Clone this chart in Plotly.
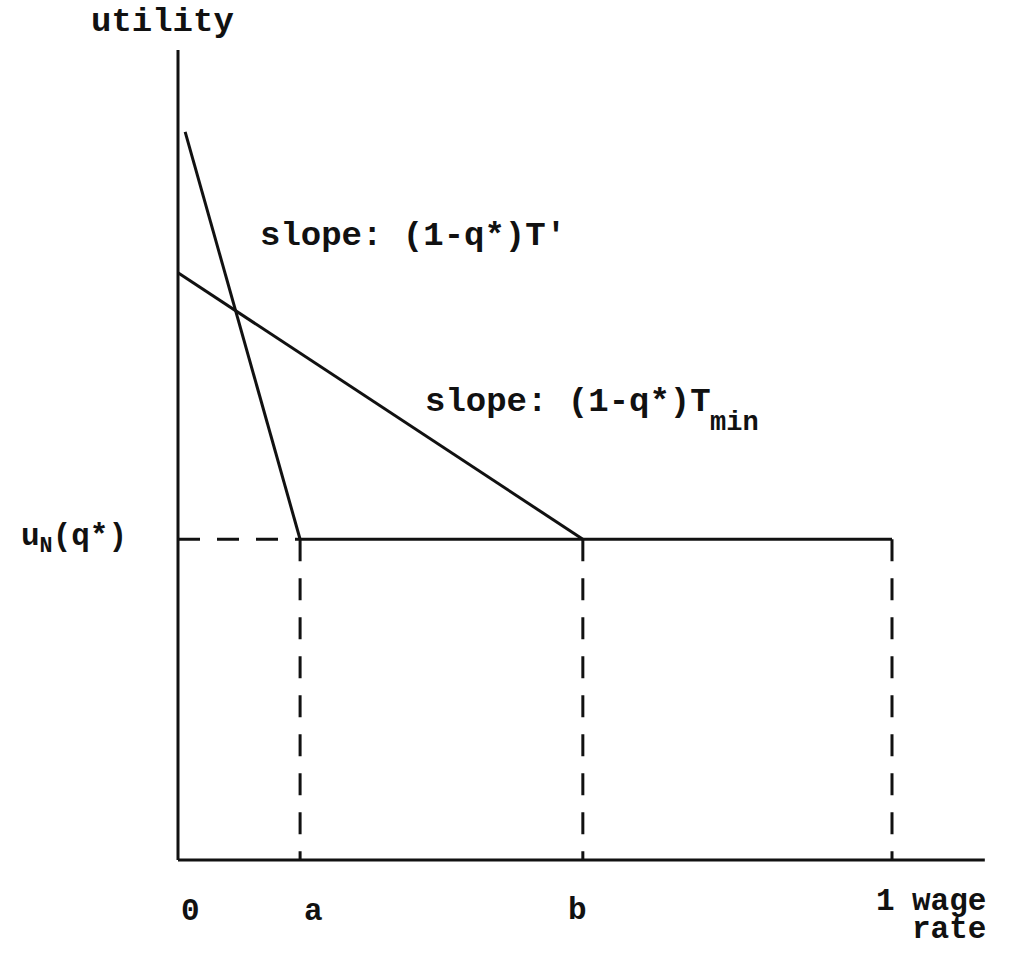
import plotly.graph_objects as go

# Wage-rate positions of the marked points (0 and 1 are the ends of the wage scale)
tick_positions = [0.0, 0.171, 0.567, 1.0]
tick_labels = ["0", "a", "b", "1"]
wage_a = 0.171
wage_b = 0.567

# Utility levels
u_N = 0.396               # reservation utility u_N(q*)
steep_intercept = 0.899   # line with slope (1-q*)T'
steep_start_x = 0.01
flat_intercept = 0.725    # line with slope (1-q*)T_min
axis_top = 1.0
axis_right = 1.13

FONT = "Liberation Mono"
INK = "#111111"
LW = 3
DASH = "22px,17px"

# pixel geometry of the drawing area
X0_PX, X_UNIT = 178, 714
Y0_PX, Y_UNIT = 860, 810
W, H = 1016, 953


def px_x(p):
    return (p - X0_PX) / X_UNIT


def px_y(p):
    return (Y0_PX - p) / Y_UNIT


fig = go.Figure()


def seg(xs, ys, dash="solid"):
    fig.add_trace(go.Scatter(x=xs, y=ys, mode="lines",
                             line=dict(color=INK, width=LW, dash=dash),
                             hoverinfo="skip", showlegend=False))


# axes
seg([0, 0], [0, axis_top])
seg([0, axis_right], [0, 0])

# utility lines
seg([steep_start_x, wage_a], [steep_intercept, u_N])
seg([0, wage_b], [flat_intercept, u_N])
seg([wage_a, 1.0], [u_N, u_N])
seg([0, wage_a], [u_N, u_N], dash=DASH)

# dashed drop lines to the wage axis
for xv in [wage_a, wage_b, 1.0]:
    seg([xv, xv], [u_N, 0], dash=DASH)


def font(size):
    return dict(family=FONT, size=size, color=INK)


ann = []


def label(x, y, text, size, xanchor="center", yanchor="middle", xshift=0):
    ann.append(dict(x=x, y=y, text="<b>%s</b>" % text, xanchor=xanchor, yanchor=yanchor,
                    xshift=xshift, showarrow=False, font=font(size), xref="x", yref="y"))


BIG = 34
MID = 31

label(px_x(236), px_y(22), "utility", BIG, xanchor="right")
label(px_x(258), px_y(236), "slope: (1-q*)T'", BIG, xanchor="left")
label(px_x(423), px_y(402), "slope: (1-q*)T", BIG, xanchor="left")
label(px_x(708), px_y(423), "min", 27, xanchor="left")
label(px_x(129), u_N, "u<sub>N</sub>(q*)", MID, xanchor="right")

# wage-axis labels
shifts = {"0": 12, "a": 13, "b": -5, "1": -7}
rows = {"0": 911, "a": 911, "b": 910, "1": 901}
for xv, lab in zip(tick_positions, tick_labels):
    label(xv, px_y(rows[lab]), lab, MID, xshift=shifts[lab])
label(px_x(988), px_y(901), "wage", MID, xanchor="right")
label(px_x(988), px_y(929), "rate", MID, xanchor="right")

fig.update_layout(
    width=W, height=H,
    margin=dict(l=0, r=0, t=0, b=0),
    paper_bgcolor="white", plot_bgcolor="white",
    xaxis=dict(range=[px_x(0), px_x(W)], visible=False, fixedrange=True),
    yaxis=dict(range=[px_y(H), px_y(0)], visible=False, fixedrange=True),
    annotations=ann,
    showlegend=False,
)

fig.write_html("out.html")
